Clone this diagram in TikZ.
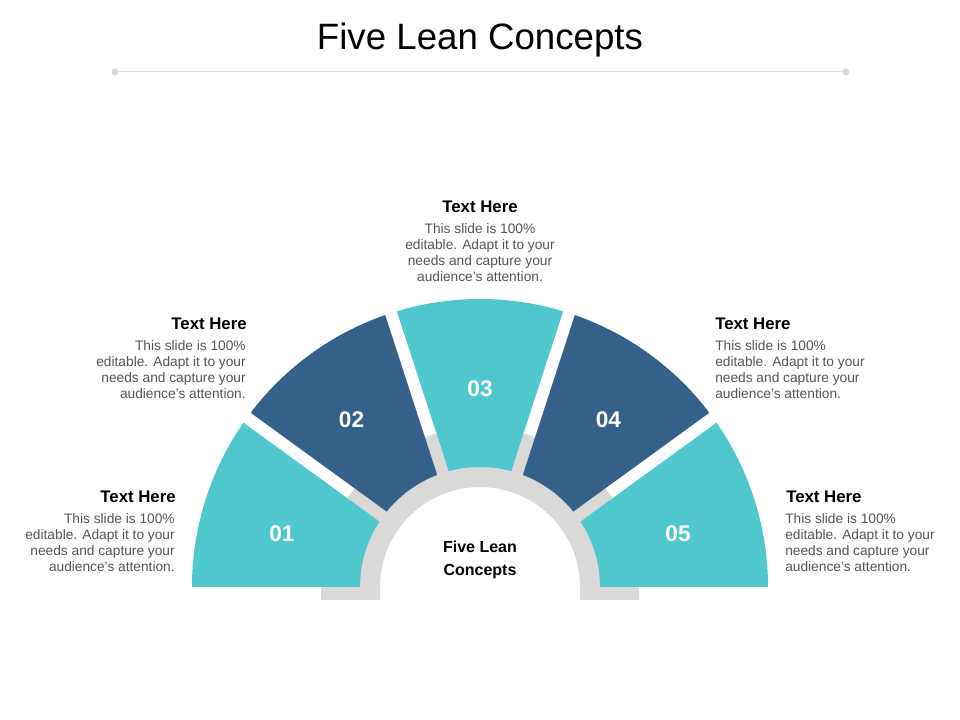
\documentclass[tikz,border=0pt]{standalone}
\usepackage{fontspec}
\setmainfont{Liberation Sans}
\usetikzlibrary{calc}
\definecolor{tealseg}{HTML}{50C7CC}
\definecolor{blueseg}{HTML}{356089}
\definecolor{ringgray}{HTML}{D9D9D9}
\definecolor{txtgray}{HTML}{555555}
\begin{document}
\begin{tikzpicture}[x=0.75pt,y=0.75pt]
    % Define styles
    \tikzset{
      head/.style={font=\fontsize{12.6}{14}\selectfont\bfseries, text=black, inner sep=0pt},
      body/.style={font=\fontsize{10.3}{12}\selectfont, text=txtgray, inner sep=0pt},
      num/.style={font=\fontsize{17}{20}\selectfont\bfseries, text=white}
    }
    \useasboundingbox[fill=white] (0,0) rectangle (960,720);

    % Title
    \node[font=\fontsize{27.5}{30}\selectfont] (title) at (480,680) {Five Lean Concepts};
    \draw[ringgray, line width=0.75pt] (115,648) -- (846,648);
    \fill[ringgray] (115,648) circle (3.5) (846,648) circle (3.5);

    % Gray base ring
    \coordinate (c) at (480,133);
    \fill[ringgray] (321,120) -- (321,133) arc[start angle=180, end angle=0, radius=159]
      -- (639,120) -- (580,120) -- (580,133) arc[start angle=0, end angle=180, radius=100]
      -- (380,120) -- cycle;

    % Segments
    \foreach \i/\col in {0/tealseg,1/blueseg,2/tealseg,3/blueseg,4/tealseg}{
      \pgfmathsetmacro\a{180-36*\i}
      \pgfmathsetmacro\b{144-36*\i}
      \fill[\col] ($(c)+(\a:120)$) arc[start angle=\a, end angle=\b, radius=120]
        -- ($(c)+(\b:288)$) arc[start angle=\b, end angle=\a, radius=288] -- cycle;
    }
    % Gaps
    \foreach \g in {36,72,108,144}{
      \draw[white, line width=9pt] ($(c)+(\g:159)$) -- ($(c)+(\g:295)$);
      \draw[ringgray, line width=9pt] ($(c)+(\g:100)$) -- ($(c)+(\g:159.5)$);
    }

    % Numbers
    \node[num] (n1) at ($(c)+(165:205)$) {01};
    \node[num] (n2) at ($(c)+(127.5:211)$) {02};
    \node[num] (n3) at ($(c)+(90:198)$) {03};
    \node[num] (n4) at ($(c)+(52.5:211)$) {04};
    \node[num] (n5) at ($(c)+(15:205)$) {05};

    % Center label
    \node[font=\fontsize{12}{17}\selectfont\bfseries, align=center] (center) at (480,160) {Five Lean\\Concepts};

    % Text blocks
    \node[head, anchor=east] (h1) at (176,223) {Text Here};
    \node[body, anchor=north east, align=right] (b1) at (175,207) {This slide is 100\%\\editable. Adapt it to your\\needs and capture your\\audience's attention.};
    \node[head, anchor=east] (h2) at (247,396) {Text Here};
    \node[body, anchor=north east, align=right] (b2) at (246,380) {This slide is 100\%\\editable. Adapt it to your\\needs and capture your\\audience's attention.};
    \node[head] (h3) at (480,513) {Text Here};
    \node[body, anchor=north, align=center] (b3) at (480,497) {This slide is 100\%\\editable. Adapt it to your\\needs and capture your\\audience's attention.};
    \node[head, anchor=west] (h4) at (715,396) {Text Here};
    \node[body, anchor=north west, align=left] (b4) at (715,380) {This slide is 100\%\\editable. Adapt it to your\\needs and capture your\\audience's attention.};
    \node[head, anchor=west] (h5) at (786,223) {Text Here};
    \node[body, anchor=north west, align=left] (b5) at (785,207) {This slide is 100\%\\editable. Adapt it to your\\needs and capture your\\audience's attention.};
\end{tikzpicture}
\end{document}
